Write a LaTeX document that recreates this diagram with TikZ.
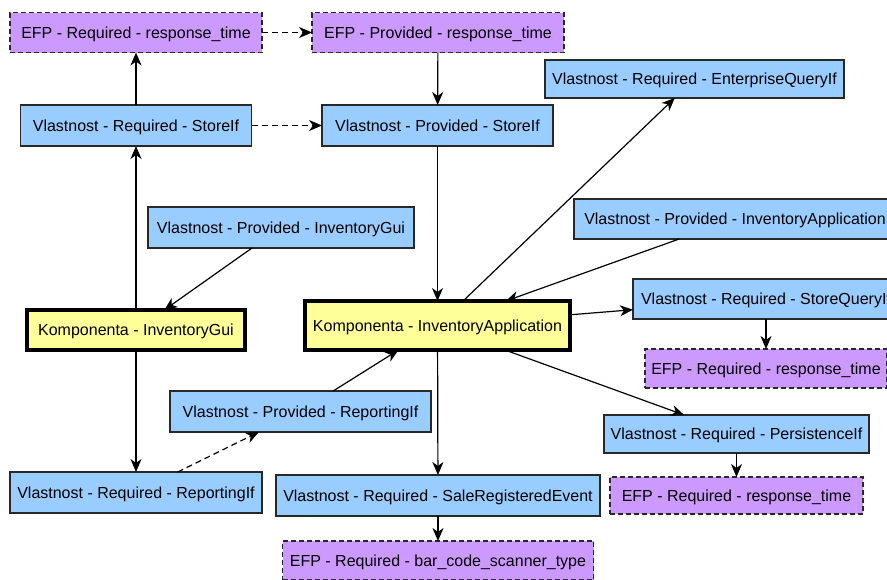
\documentclass[tikz,border=0pt]{standalone}
\usepackage{fontspec}
\setmainfont{Liberation Sans}
\usetikzlibrary{arrows.meta}
\definecolor{propblue}{RGB}{153,204,255}
\definecolor{efppurple}{RGB}{204,153,255}
\definecolor{compyellow}{RGB}{255,255,153}
\definecolor{edgegray}{RGB}{40,40,40}
\tikzset{
  box/.style={draw=edgegray, line width=1.3pt, inner sep=0pt, outer sep=0pt,
    font=\fontsize{16}{19}\selectfont, text=black,
    text height=11.5pt, text depth=0pt},
  prop/.style={box, fill=propblue},
  efp/.style={box, fill=efppurple, dash pattern=on 5pt off 3pt},
  comp/.style={box, fill=compyellow, draw=black, line width=4pt},
  edge/.style={draw=black, line width=1.2pt,
    -{Stealth[length=13pt,width=11pt,inset=4pt]}},
  dedge/.style={edge, dash pattern=on 6pt off 4pt},
}
\newcommand{\bx}[6]{\node[#1, minimum width=#4pt, minimum height=#5pt] (#2) at #3 {#6};}
\begin{document}
\begin{tikzpicture}[x=1pt,y=-1pt]
\useasboundingbox (0,0) rectangle (887,579);
\clip (0,0) rectangle (887,579);
\fill[white] (0,0) rectangle (887,579);
% property and EFP boxes
\bx{efp}{efpReqTop}{(136,32.5)}{252}{40}{EFP - Required - response\_time}
\bx{efp}{efpProvTop}{(438,32.5)}{252}{40}{EFP - Provided - response\_time}
\bx{prop}{reqStore}{(136,125.5)}{231}{41}{Vlastnost - Required - StoreIf}
\bx{prop}{provStore}{(437.5,125.5)}{231}{41}{Vlastnost - Provided - StoreIf}
\bx{prop}{reqEnterprise}{(694.5,79)}{299}{38}{Vlastnost - Required - EnterpriseQueryIf}
\bx{prop}{provGui}{(281,227.5)}{266}{41}{Vlastnost - Provided - InventoryGui}
\bx{prop}{provApp}{(735,219)}{322}{40}{Vlastnost - Provided - InventoryApplication}
\bx{comp}{compGui}{(136,330)}{218}{40}{Komponenta - InventoryGui}
\bx{comp}{compApp}{(437.5,325.5)}{265}{49}{Komponenta - InventoryApplication}
\bx{prop}{reqStoreQuery}{(766,299)}{266}{40}{Vlastnost - Required - StoreQueryIf}
\bx{efp}{efpStoreQuery}{(766,368.5)}{242}{39}{EFP - Required - response\_time}
\bx{prop}{provReporting}{(300.5,411.5)}{261}{41}{Vlastnost - Provided - ReportingIf}
\bx{prop}{reqPersistence}{(736.5,434)}{265}{38}{Vlastnost - Required - PersistenceIf}
\bx{efp}{efpPersistence}{(736.5,495.5)}{253}{37}{EFP - Required - response\_time}
\bx{prop}{reqReporting}{(136,492.5)}{252}{41}{Vlastnost - Required - ReportingIf}
\bx{prop}{reqSale}{(438,495.5)}{324}{41}{Vlastnost - Required - SaleRegisteredEvent}
\bx{efp}{efpSale}{(438,560.5)}{311}{39}{EFP - Required - bar\_code\_scanner\_type}
% connectors
\draw[edge] (reqStore) -- (efpReqTop);
\draw[dedge] (efpReqTop) -- (efpProvTop);
\draw[dedge] (reqStore) -- (provStore);
\draw[edge] (efpProvTop) -- (provStore);
\draw[edge] (provStore) -- (compApp);
\draw[edge] (compGui) -- (reqStore);
\draw[edge] (provGui) -- (compGui);
\draw[edge] (compApp) -- (reqEnterprise);
\draw[edge] (provApp) -- (compApp);
\draw[edge] (compApp) -- (reqStoreQuery);
\draw[edge] (reqStoreQuery) -- (efpStoreQuery);
\draw[edge] (compApp) -- (reqPersistence);
\draw[edge] (reqPersistence) -- (efpPersistence);
\draw[edge] (compApp) -- (reqSale);
\draw[edge] (reqSale) -- (efpSale);
\draw[edge] (provReporting) -- (compApp);
\draw[edge] (compGui) -- (reqReporting);
\draw[dedge] (reqReporting) -- (provReporting);
\end{tikzpicture}
\end{document}
